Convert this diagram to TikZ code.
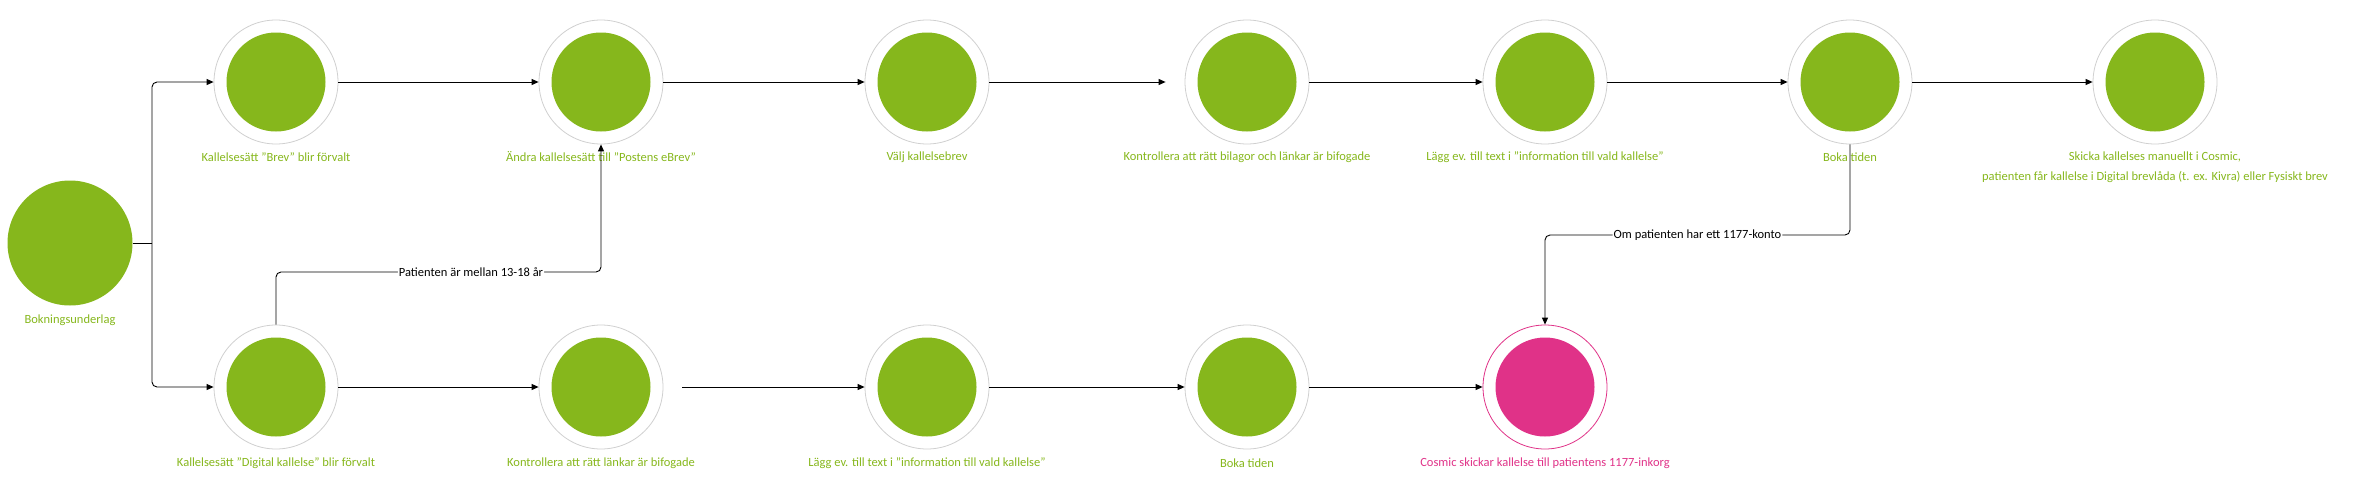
\documentclass[tikz,border=0pt]{standalone}
\usepackage{fontspec}
\setmainfont{Carlito}
\usetikzlibrary{arrows.meta}
\definecolor{gr}{HTML}{86B71C}
\definecolor{pk}{HTML}{E03288}
\definecolor{rg}{HTML}{D0D0D0}
\begin{document}
\begin{tikzpicture}[x=1pt,y=-1pt,
  ring/.style={circle,draw=rg,line width=0.8pt,fill=white,minimum size=124pt,inner sep=0pt},
  core/.style={circle,fill=gr,minimum size=99pt,inner sep=0pt},
  lbl/.style={text=gr,font=\fontsize{12.5}{20}\selectfont,align=center},
  arr/.style={-{Triangle[length=7pt,width=6pt]},line width=0.9pt,rounded corners=5pt},
  cl/.style={fill=white,font=\fontsize{12.5}{15}\selectfont,inner sep=1pt}]
\useasboundingbox (0,0) rectangle (2373,482);
\newcommand\stp[3]{%
  \node[ring] (#1) at (#2,#3) {};
  \node[core] at (#2,#3) {};}
\node[circle,fill=gr,minimum size=125pt,inner sep=0pt] (s) at (70,243) {};
\node[lbl] at (70,320) {Bokningsunderlag};
\stp{a}{276}{82}\node[lbl] at (276,157) {Kallelsesätt ”Brev” blir förvalt};
\stp{b}{601}{82}\node[lbl] at (601,157) {Ändra kallelsesätt till ”Postens eBrev”};
\stp{c}{927}{82}\node[lbl] at (927,157) {Välj kallelsebrev};
\stp{d}{1247}{82}\node[lbl] at (1247,157) {Kontrollera att rätt bilagor och  länkar är bifogade};
\stp{e}{1545}{82}\node[lbl] at (1545,157) {Lägg ev. till text i  ”information till vald kallelse”};
\stp{f}{1850}{82}\node[lbl] at (1850,157) {Boka tiden};
\stp{g}{2155}{82}\node[lbl] at (2155,167) {Skicka kallelses manuellt i Cosmic,\\patienten får kallelse i Digital brevlåda (t. ex. Kivra) eller Fysiskt brev};
\stp{h}{276}{387}\node[lbl] at (276,463) {Kallelsesätt ”Digital kallelse” blir förvalt};
\stp{i}{601}{387}\node[lbl] at (601,463) {Kontrollera att rätt länkar är bifogade};
\stp{j}{927}{387}\node[lbl] at (927,463) {Lägg ev. till text i  ”information till vald kallelse”};
\stp{k}{1247}{387}\node[lbl] at (1247,463) {Boka tiden};
\node[ring,draw=pk] (m) at (1545,387) {};
\node[core,fill=pk] at (1545,387) {};
\node[lbl,text=pk] at (1545,463) {Cosmic skickar kallelse till patientens 1177-inkorg};
\coordinate (br) at (152,243);
\draw[line width=0.9pt] (s.east) -- (br);
\draw[arr] (br) |- (a.west);
\draw[arr] (br) |- (h.west);
\draw[arr] (a) -- (b);
\draw[arr] (b) -- (c);
\draw[arr,shorten >=19pt] (c) -- (d);
\draw[arr] (d) -- (e);
\draw[arr] (e) -- (f);
\draw[arr] (f) -- (g);
\draw[arr] (h) -- (i);
\draw[arr,shorten <=19pt] (i) -- (j);
\draw[arr] (j) -- (k);
\draw[arr] (k) -- (m);
\draw[arr] (h.north) -- (276,272) -- node[cl,pos=0.6]{Patienten är mellan 13-18 år} (601,272) -- (b.south);
\draw[arr] (f.south) -- (1850,235) -- node[cl,pos=0.5]{Om patienten har ett 1177-konto} (1545,235) -- (m.north);
\end{tikzpicture}
\end{document}
